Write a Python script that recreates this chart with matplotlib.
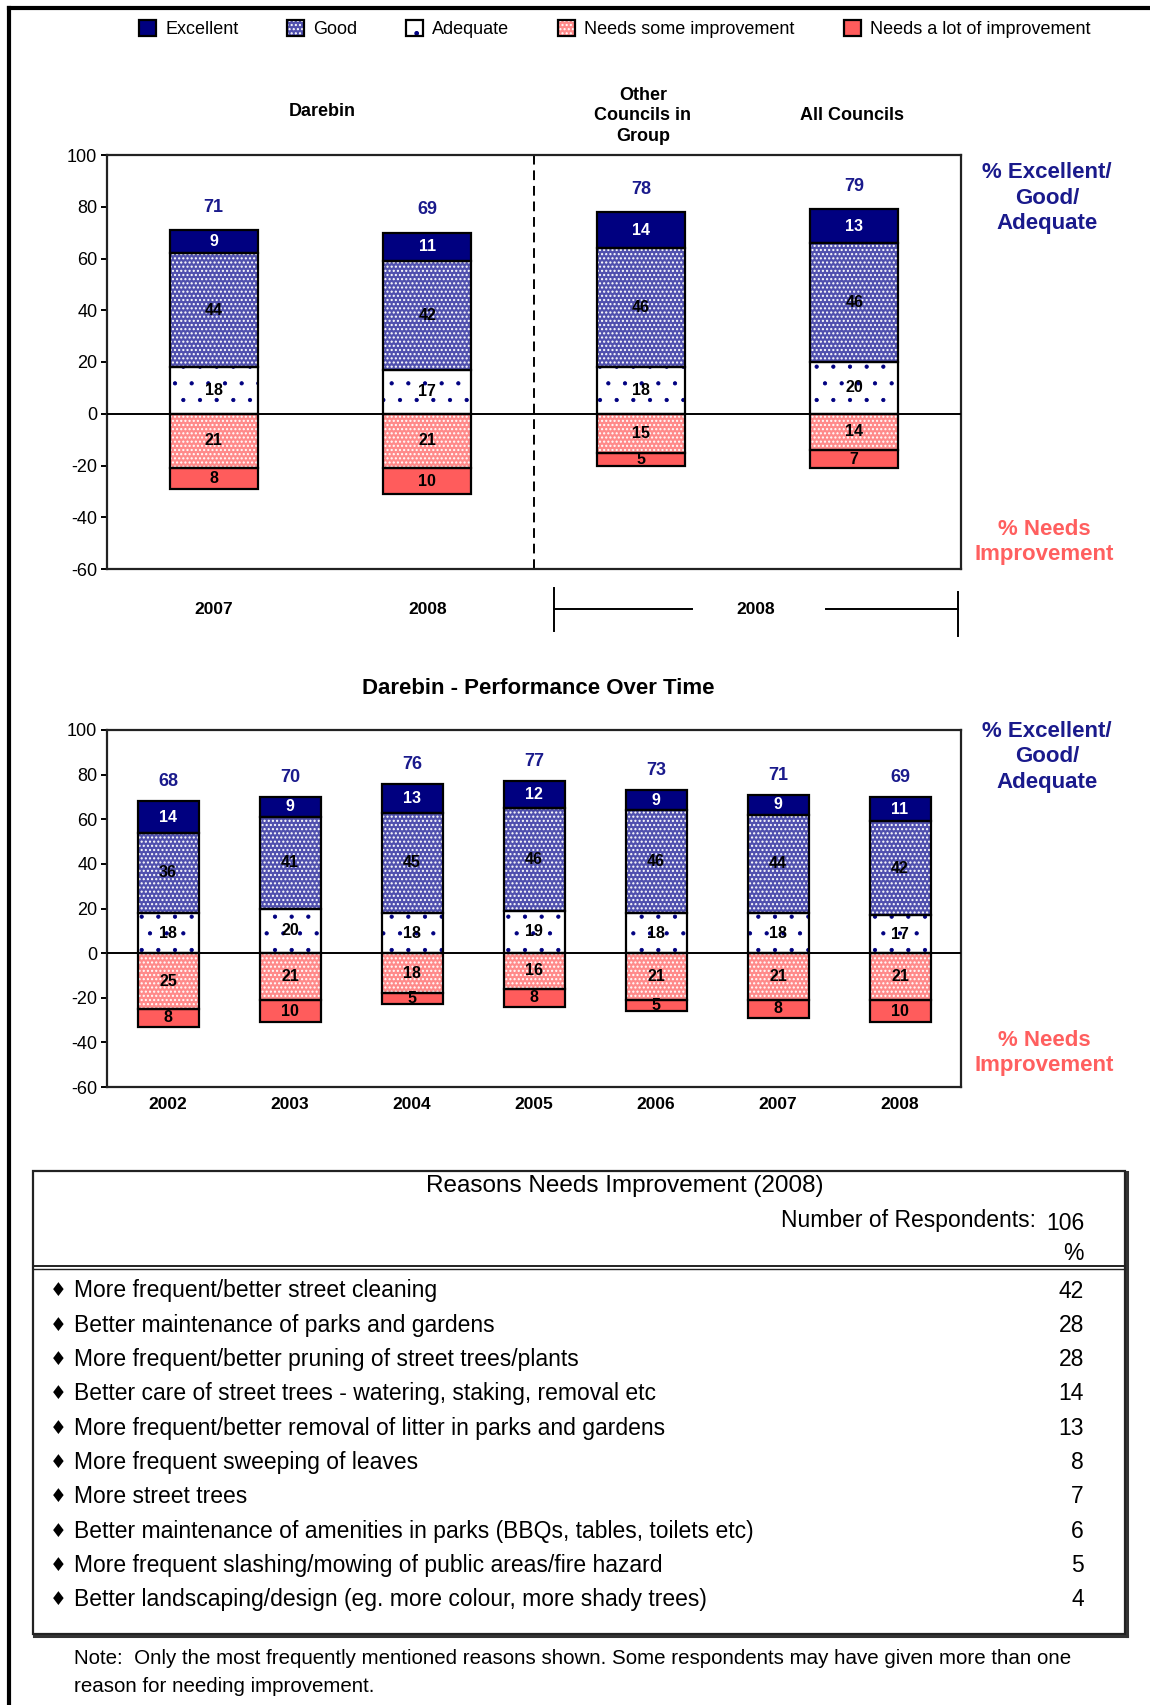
import matplotlib
matplotlib.use("Agg")
import matplotlib.pyplot as plt
from matplotlib.lines import Line2D
from matplotlib.patches import Rectangle
from matplotlib.transforms import Affine2D

plt.rcParams["font.family"] = ["Liberation Sans", "DejaVu Sans"]
plt.rcParams["axes.unicode_minus"] = False

W, H = 1150, 1705

# rating categories, in legend order
ratings = ["Excellent", "Good", "Adequate", "Needs some improvement",
           "Needs a lot of improvement"]

# comparison chart: Darebin 2007/2008 vs other councils (2008)
cmp_headers = ["Darebin", "Other\nCouncils in\nGroup", "All Councils"]
cmp_years = ["2007", "2008", "2008"]
cmp_excellent = [9, 11, 14, 13]
cmp_good = [44, 42, 46, 46]
cmp_adequate = [18, 17, 18, 20]
cmp_needs_some = [21, 21, 15, 14]
cmp_needs_lot = [8, 10, 5, 7]
cmp_total = [71, 69, 78, 79]

# Darebin over time
years = ["2002", "2003", "2004", "2005", "2006", "2007", "2008"]
ts_excellent = [14, 9, 13, 12, 9, 9, 11]
ts_good = [36, 41, 45, 46, 46, 44, 42]
ts_adequate = [18, 20, 18, 19, 18, 18, 17]
ts_needs_some = [25, 21, 18, 16, 21, 21, 21]
ts_needs_lot = [8, 10, 5, 8, 5, 8, 10]
ts_total = [68, 70, 76, 77, 73, 71, 69]

# reasons table
respondents = 106
reasons = [
    "More frequent/better street cleaning",
    "Better maintenance of parks and gardens",
    "More frequent/better pruning of street trees/plants",
    "Better care of street trees - watering, staking, removal etc",
    "More frequent/better removal of litter in parks and gardens",
    "More frequent sweeping of leaves",
    "More street trees",
    "Better maintenance of amenities in parks (BBQs, tables, toilets etc)",
    "More frequent slashing/mowing of public areas/fire hazard",
    "Better landscaping/design (eg. more colour, more shady trees)",
]
reason_pct = [42, 28, 28, 14, 13, 8, 7, 6, 5, 4]

NAVY = "#000080"
RED = "#ff5c5c"
BLUE_TXT = "#1a1a8c"
RED_TXT = "#ff5f5f"

# fill, hatch, hatch colour, hatch width, label colour for each rating
styles = [
    dict(face=NAVY, hatch=None, hcol=NAVY, hlw=1.0, txt="white"),
    dict(face="#5050ae", hatch="....", hcol="white", hlw=1.0, txt="black"),
    dict(face="white", hatch=".", hcol=NAVY, hlw=0.6, txt="black"),
    dict(face="#ff8a8a", hatch="....", hcol="white", hlw=1.0, txt="black"),
    dict(face=RED, hatch=None, hcol=RED, hlw=1.0, txt="black"),
]

fig = plt.figure(figsize=(W / 100, H / 100), dpi=100)
# pixel coordinates, origin top-left
pix = Affine2D().scale(1 / W, -1 / H).translate(0, 1) + fig.transFigure


def add_axes(x0, y0, x1, y1):
    return fig.add_axes([x0 / W, 1 - y1 / H, (x1 - x0) / W, (y1 - y0) / H])


def stacked_bars(ax, xs, width, excellent, good, adequate, needs_some,
                 needs_lot, totals, total_offset):
    layers = [(excellent, 1), (good, 1), (adequate, 1),
              (needs_some, -1), (needs_lot, -1)]
    pos_base = [0] * len(xs)
    neg_base = [0] * len(xs)
    drawn = {}
    # positive side is stacked adequate -> good -> excellent from zero
    for idx in [2, 1, 0, 3, 4]:
        vals, sign = layers[idx]
        st = styles[idx]
        base = pos_base if sign > 0 else neg_base
        heights = [sign * v for v in vals]
        with plt.rc_context({"hatch.linewidth": st["hlw"]}):
            fill = ax.bar(xs, heights, width, bottom=base, color=st["face"],
                          hatch=st["hatch"], edgecolor=st["hcol"],
                          linewidth=0, zorder=2)
        edge = ax.bar(xs, heights, width, bottom=base, fill=False,
                      edgecolor="black", linewidth=1.6, zorder=2.5)
        for x, b, h, v in zip(xs, base, heights, vals):
            ax.text(x, b + h / 2, str(v), ha="center", va="center",
                    fontsize=11.5, fontweight="bold", color=st["txt"],
                    zorder=4)
        drawn[idx] = (fill, edge)
        for i, h in enumerate(heights):
            base[i] += h
    for x, top, t in zip(xs, pos_base, totals):
        ax.annotate(str(t), (x, top), xytext=(0, total_offset),
                    textcoords="offset points", ha="center", va="center",
                    fontsize=13, fontweight="bold", color=BLUE_TXT)
    return [drawn[idx] for idx in range(5)]


def style_axes(ax):
    ax.set_ylim(-60, 100)
    ax.set_yticks(range(-60, 101, 20))
    ax.tick_params(axis="y", length=4, width=1.4, pad=3, labelsize=13,
                   direction="out")
    for s in ax.spines.values():
        s.set_linewidth(1.6)
        s.set_color("#222222")
    ax.axhline(0, color="black", lw=1.4, zorder=3)


# ---- comparison chart ----
ax1 = add_axes(107, 155, 961, 569)
x1 = [0.5, 1.5, 2.5, 3.5]
handles = stacked_bars(ax1, x1, 0.41, cmp_excellent, cmp_good, cmp_adequate,
                       cmp_needs_some, cmp_needs_lot, cmp_total, 16.5)
ax1.set_xlim(0, 4)
style_axes(ax1)
ax1.set_xticks([])
ax1.axvline(2, color="black", lw=1.4, ls=(0, (5, 3)), zorder=1)

xt = ax1.get_xaxis_transform()
for x, lab in zip([0.5, 1.5, 3.04], cmp_years):
    ax1.text(x, -0.097, lab, transform=xt, ha="center", va="center",
             fontsize=12.5, fontweight="bold")
# bracket spanning the 2008 council comparisons
bx0, bx1 = 2.094, 3.986
ax1.add_line(Line2D([bx0, bx0], [-0.045, -0.150], transform=xt,
                    color="black", lw=1.4, clip_on=False))
ax1.add_line(Line2D([bx1, bx1], [-0.055, -0.162], transform=xt,
                    color="black", lw=1.4, clip_on=False))
ax1.add_line(Line2D([bx0, 2.74], [-0.097, -0.097], transform=xt,
                    color="black", lw=1.4, clip_on=False))
ax1.add_line(Line2D([3.37, bx1], [-0.097, -0.097], transform=xt,
                    color="black", lw=1.4, clip_on=False))

fig.text(322, 112, cmp_headers[0], transform=pix, ha="center", va="center",
         fontsize=13, fontweight="bold")
fig.text(643, 116, cmp_headers[1], transform=pix, ha="center", va="center",
         fontsize=13, fontweight="bold", linespacing=1.3)
fig.text(852, 116, cmp_headers[2], transform=pix, ha="center", va="center",
         fontsize=13, fontweight="bold")

# ---- over-time chart ----
ax2 = add_axes(107, 730, 961, 1087)
x2 = [i + 0.5 for i in range(len(years))]
stacked_bars(ax2, x2, 0.5, ts_excellent, ts_good, ts_adequate,
             ts_needs_some, ts_needs_lot, ts_total, 14)
ax2.set_xlim(0, len(years))
style_axes(ax2)
ax2.set_xticks(x2, years)
ax2.tick_params(axis="x", length=0, pad=7, labelsize=12.5)
for lab in ax2.get_xticklabels():
    lab.set_fontweight("bold")

fig.text(538, 689, "Darebin - Performance Over Time", transform=pix,
         ha="center", va="center", fontsize=16, fontweight="bold")

# side captions for both charts
for top_y, bot_y in [(198, 542), (757, 1053)]:
    fig.text(1047, top_y, "% Excellent/\nGood/\nAdequate", transform=pix,
             ha="center", va="center", fontsize=16, fontweight="bold",
             color=BLUE_TXT, linespacing=1.3)
    fig.text(1044, bot_y, "% Needs\nImprovement", transform=pix,
             ha="center", va="center", fontsize=16, fontweight="bold",
             color=RED_TXT, linespacing=1.3)

# legend
fig.legend(handles, ratings, loc="center left", bbox_to_anchor=(139, 29),
           bbox_transform=pix, ncol=5, frameon=False, fontsize=13,
           handlelength=0.95, handleheight=0.95, handletextpad=0.5,
           columnspacing=2.7, borderpad=0, borderaxespad=0)

# ---- reasons table ----
fig.add_artist(Rectangle((33, 1171), 1092, 463, transform=pix, fill=False,
                         edgecolor="#222222", lw=1.6))
fig.add_artist(Line2D([34, 1127], [1636, 1636], transform=pix,
                      color="#333333", lw=2.2))
fig.add_artist(Line2D([1127, 1127], [1172, 1636], transform=pix,
                      color="#333333", lw=2.2))
fig.add_artist(Line2D([33, 1125], [1266, 1266], transform=pix,
                      color="#222222", lw=1.4))
fig.add_artist(Line2D([33, 1125], [1269, 1269], transform=pix,
                      color="#222222", lw=1.0))

fig.text(625, 1186, "Reasons Needs Improvement (2008)", transform=pix,
         ha="center", va="center", fontsize=17.5)
fig.text(1036, 1220, "Number of Respondents:", transform=pix, ha="right",
         va="center", fontsize=16.5)
fig.text(1046, 1223, str(respondents), transform=pix, ha="left",
         va="center", fontsize=16.5)
fig.text(1084, 1254, "%", transform=pix, ha="right", va="center",
         fontsize=16.5)

row_y0, row_dy = 1291, 34.3
for i, (reason, pct) in enumerate(zip(reasons, reason_pct)):
    y = row_y0 + i * row_dy
    fig.text(58, y, "\u2666", transform=pix, ha="center", va="center",
             fontsize=13.5, family="DejaVu Sans")
    fig.text(74, y, reason, transform=pix, ha="left", va="center",
             fontsize=16.5)
    fig.text(1084, y, str(pct), transform=pix, ha="right", va="center",
             fontsize=16.5)

fig.text(74, 1659, "Note:  Only the most frequently mentioned reasons shown. "
         "Some respondents may have given more than one", transform=pix,
         ha="left", va="center", fontsize=14.8)
fig.text(74, 1687, "reason for needing improvement.", transform=pix,
         ha="left", va="center", fontsize=14.8)

# page frame
fig.add_artist(Line2D([9, W], [8, 8], transform=pix, color="black", lw=3))
fig.add_artist(Line2D([9, 9], [8, H], transform=pix, color="black", lw=3))

fig.savefig("out.png", dpi=100, facecolor="white")
